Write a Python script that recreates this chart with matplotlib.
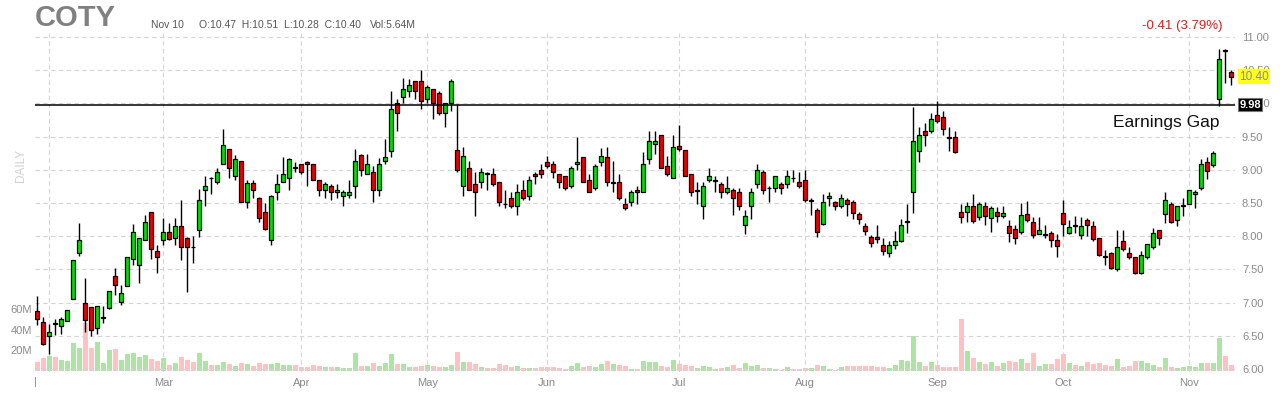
import numpy as np
import pandas as pd
import matplotlib
matplotlib.use("Agg")
import matplotlib.pyplot as plt
import matplotlib.transforms as mtransforms

plt.rcParams['font.family'] = ['Liberation Sans', 'DejaVu Sans']

# ---------------- data ----------------
ticker = "COTY"
holidays = ['2021-02-15', '2021-04-02', '2021-05-31', '2021-07-05', '2021-09-06']
dates = pd.bdate_range('2021-01-28', '2021-11-10')
dates = dates[~dates.isin(pd.to_datetime(holidays))]

opens = [6.88, 6.71, 6.50, 6.69, 6.65, 6.73, 7.06, 7.75, 7.00, 6.94,
         6.62, 6.77, 6.92, 7.40, 7.01, 7.25, 7.65, 7.57, 7.94, 8.36,
         7.77, 7.94, 8.07, 7.98, 8.16, 7.97, 7.84, 8.10, 8.69, 8.88,
         8.82, 9.09, 9.31, 8.91, 9.13, 8.51, 8.80, 8.57, 8.37, 7.95,
         8.66, 8.81, 8.87, 9.04, 9.08, 9.12, 9.08, 8.85, 8.69, 8.75,
         8.66, 8.61, 8.62, 8.76, 9.23, 8.94, 8.97, 8.69, 9.14, 9.29,
         10.00, 10.09, 10.18, 10.33, 10.34, 10.06, 10.21, 10.16, 9.85, 10.00,
         9.30, 8.75, 9.02, 8.79, 8.81, 8.95, 8.93, 8.81, 8.49, 8.58,
         8.46, 8.69, 8.61, 8.94, 9.00, 9.11, 9.09, 8.93, 8.90, 8.76,
         9.08, 9.20, 8.84, 8.72, 9.12, 9.20, 8.80, 8.81, 8.49, 8.51,
         8.69, 8.66, 9.17, 9.39, 9.52, 9.06, 8.88, 9.36, 9.30, 8.93,
         8.68, 8.46, 8.84, 8.83, 8.79, 8.67, 8.70, 8.67, 8.17, 8.45,
         8.79, 8.97, 8.72, 8.72, 8.79, 8.79, 8.88, 8.82, 8.84, 8.53,
         8.40, 8.19, 8.57, 8.52, 8.45, 8.55, 8.51, 8.34, 8.16, 7.99,
         7.99, 7.86, 7.74, 7.86, 7.93, 8.22, 8.66, 9.29, 9.59, 9.58,
         9.82, 9.80, 9.49, 9.50, 8.37, 8.37, 8.46, 8.29, 8.45, 8.28,
         8.36, 8.30, 8.15, 8.11, 8.06, 8.33, 8.21, 8.03, 8.02, 8.05,
         7.94, 8.35, 8.05, 8.17, 8.02, 8.24, 8.15, 7.97, 7.70, 7.74,
         7.50, 7.93, 7.75, 7.69, 7.44, 7.68, 7.83, 8.10, 8.33, 8.49,
         8.24, 8.46, 8.49, 8.64, 8.72, 9.11, 9.07, 10.06, 10.80, 10.47]

highs = [7.10, 6.79, 6.68, 6.75, 6.79, 6.89, 7.64, 8.20, 7.37, 6.94,
         6.95, 6.95, 7.18, 7.52, 7.27, 7.69, 8.18, 7.98, 8.32, 8.36,
         7.87, 8.28, 8.20, 8.27, 8.54, 7.99, 8.01, 8.71, 8.91, 8.89,
         9.02, 9.61, 9.32, 9.23, 9.13, 8.84, 8.84, 8.59, 8.50, 8.62,
         8.94, 9.20, 9.18, 9.12, 9.08, 9.14, 9.08, 8.85, 8.82, 8.79,
         8.78, 8.70, 8.84, 9.32, 9.24, 9.24, 9.05, 9.18, 9.46, 10.18,
         10.07, 10.39, 10.36, 10.33, 10.51, 10.27, 10.21, 10.18, 10.00, 10.36,
         9.99, 9.35, 9.14, 8.97, 9.02, 8.97, 9.02, 8.82, 8.69, 8.66,
         8.79, 8.84, 8.90, 8.96, 9.09, 9.21, 9.14, 8.94, 8.91, 9.06,
         9.50, 9.20, 8.93, 9.08, 9.33, 9.35, 9.14, 8.94, 8.57, 8.70,
         8.75, 9.27, 9.58, 9.58, 9.53, 9.21, 9.52, 9.68, 9.30, 8.93,
         8.81, 8.82, 9.02, 8.90, 8.81, 8.90, 8.72, 8.73, 8.40, 8.72,
         9.08, 9.00, 8.76, 8.91, 8.82, 9.00, 9.00, 8.97, 8.99, 8.57,
         8.43, 8.64, 8.66, 8.53, 8.64, 8.58, 8.54, 8.37, 8.20, 8.02,
         8.17, 7.98, 7.93, 8.08, 8.26, 8.49, 9.95, 9.64, 9.70, 9.85,
         10.03, 9.89, 9.65, 9.59, 8.49, 8.51, 8.64, 8.52, 8.51, 8.46,
         8.44, 8.46, 8.24, 8.17, 8.50, 8.53, 8.29, 8.29, 8.17, 8.08,
         8.03, 8.55, 8.24, 8.30, 8.29, 8.27, 8.23, 7.97, 7.79, 7.76,
         8.09, 8.10, 7.84, 7.69, 7.78, 7.89, 8.12, 8.10, 8.66, 8.52,
         8.46, 8.58, 8.69, 8.70, 9.16, 9.19, 9.29, 10.82, 10.82, 10.51]

lows = [6.66, 6.36, 6.22, 6.51, 6.52, 6.72, 7.05, 7.70, 6.55, 6.49,
        6.52, 6.69, 6.91, 7.11, 6.96, 7.25, 7.57, 7.29, 7.94, 7.66,
        7.44, 7.86, 7.94, 7.86, 7.64, 7.16, 7.60, 7.99, 8.46, 8.64,
        8.79, 9.09, 8.88, 8.85, 8.52, 8.43, 8.58, 8.21, 8.09, 7.87,
        8.54, 8.81, 8.69, 8.97, 8.93, 8.76, 8.84, 8.60, 8.58, 8.54,
        8.57, 8.46, 8.57, 8.57, 8.90, 8.94, 8.52, 8.60, 9.09, 9.20,
        9.58, 10.00, 10.10, 10.06, 9.92, 10.00, 9.76, 9.82, 9.64, 9.89,
        8.97, 8.60, 8.69, 8.31, 8.72, 8.70, 8.76, 8.45, 8.42, 8.43,
        8.32, 8.54, 8.55, 8.78, 8.88, 9.02, 8.88, 8.72, 8.70, 8.73,
        9.00, 8.81, 8.66, 8.70, 9.05, 8.76, 8.67, 8.54, 8.39, 8.46,
        8.48, 8.66, 9.09, 9.24, 9.02, 8.91, 8.87, 9.29, 8.90, 8.61,
        8.49, 8.26, 8.81, 8.66, 8.58, 8.64, 8.32, 8.39, 8.04, 8.26,
        8.73, 8.63, 8.52, 8.67, 8.63, 8.73, 8.81, 8.73, 8.52, 8.32,
        7.99, 8.17, 8.46, 8.39, 8.43, 8.31, 8.26, 8.19, 8.02, 7.83,
        7.90, 7.72, 7.69, 7.80, 7.92, 8.05, 8.35, 9.12, 9.36, 9.55,
        9.71, 9.53, 9.29, 9.26, 8.20, 8.22, 8.20, 8.25, 8.17, 8.07,
        8.21, 8.27, 7.91, 7.88, 8.03, 8.21, 7.97, 8.03, 7.97, 7.84,
        7.69, 8.00, 8.03, 8.05, 7.96, 8.00, 7.93, 7.70, 7.56, 7.51,
        7.48, 7.77, 7.66, 7.43, 7.43, 7.65, 7.81, 7.87, 8.20, 8.20,
        8.15, 8.31, 8.49, 8.43, 8.69, 8.86, 9.04, 9.96, 10.31, 10.28]

closes = [6.76, 6.37, 6.56, 6.68, 6.76, 6.89, 7.64, 7.94, 6.74, 6.58,
          6.95, 6.79, 7.18, 7.26, 7.15, 7.69, 8.06, 7.98, 8.21, 7.81,
          7.68, 8.07, 7.96, 8.16, 7.83, 7.83, 7.83, 8.54, 8.76, 8.87,
          8.97, 9.37, 9.02, 9.16, 8.52, 8.80, 8.70, 8.28, 8.11, 8.60,
          8.79, 8.94, 9.16, 9.03, 8.97, 9.08, 8.85, 8.69, 8.79, 8.67,
          8.70, 8.66, 8.66, 9.14, 9.00, 9.09, 8.70, 9.09, 9.20, 9.92,
          9.86, 10.22, 10.28, 10.19, 10.03, 10.25, 10.01, 9.85, 10.00, 10.34,
          9.00, 9.21, 8.70, 8.66, 8.96, 8.94, 8.79, 8.52, 8.48, 8.45,
          8.66, 8.57, 8.85, 8.90, 8.93, 9.06, 8.96, 8.82, 8.73, 9.02,
          9.12, 8.81, 8.67, 9.05, 9.21, 8.81, 8.81, 8.58, 8.42, 8.67,
          8.66, 9.08, 9.44, 9.44, 9.02, 8.93, 9.35, 9.32, 8.90, 8.67,
          8.69, 8.75, 8.91, 8.84, 8.66, 8.73, 8.58, 8.45, 8.31, 8.67,
          9.00, 8.70, 8.73, 8.90, 8.72, 8.91, 8.87, 8.75, 8.54, 8.54,
          8.07, 8.51, 8.61, 8.46, 8.58, 8.49, 8.35, 8.26, 8.08, 7.90,
          7.96, 7.77, 7.87, 7.93, 8.17, 8.23, 9.44, 9.52, 9.52, 9.77,
          9.74, 9.61, 9.48, 9.27, 8.29, 8.46, 8.23, 8.49, 8.31, 8.42,
          8.30, 8.35, 8.05, 7.97, 8.32, 8.24, 8.02, 8.09, 8.03, 7.94,
          7.85, 8.18, 8.14, 8.16, 8.15, 8.17, 7.96, 7.71, 7.69, 7.52,
          7.84, 7.80, 7.68, 7.45, 7.71, 7.89, 8.05, 7.98, 8.55, 8.21,
          8.46, 8.47, 8.69, 8.67, 9.08, 8.98, 9.26, 10.67, 10.79, 10.40]

volumes_m = [8.8, 12.0, 14.6, 13.0, 10.4, 9.8, 27.3, 22.7, 47.0, 22.7,
             28.3, 7.8, 20.5, 21.5, 10.7, 16.0, 17.0, 13.0, 15.6, 11.7,
             9.8, 12.7, 5.9, 7.8, 13.7, 10.7, 8.8, 17.6, 9.8, 5.9,
             5.9, 8.8, 6.8, 4.9, 7.8, 6.8, 4.9, 7.8, 6.8, 6.8,
             7.8, 5.9, 5.9, 5.9, 3.9, 3.9, 5.9, 4.9, 3.9, 3.9,
             3.9, 2.9, 2.9, 17.6, 4.9, 4.9, 7.8, 4.9, 7.8, 16.6,
             6.8, 6.8, 3.9, 3.9, 4.9, 5.9, 4.9, 3.9, 3.9, 5.9,
             18.5, 8.8, 8.8, 6.8, 3.9, 2.9, 2.9, 6.8, 5.9, 3.9,
             4.9, 2.9, 2.9, 2.9, 3.9, 3.9, 3.9, 2.9, 2.0, 4.9,
             7.8, 3.9, 4.9, 3.9, 6.8, 9.8, 6.8, 5.9, 4.9, 2.0,
             2.0, 9.8, 8.8, 8.8, 4.9, 3.9, 10.7, 6.8, 5.9, 4.9,
             2.9, 4.9, 3.9, 2.0, 2.9, 3.9, 5.9, 2.9, 7.8, 4.9,
             5.9, 2.9, 2.9, 2.0, 1.0, 3.9, 2.0, 2.0, 2.9, 2.9,
             5.9, 4.9, 2.0, 1.0, 3.9, 4.9, 4.9, 4.9, 4.9, 4.9,
             3.9, 3.9, 2.9, 5.9, 10.7, 9.8, 34.0, 8.8, 4.9, 8.8,
             5.9, 3.9, 3.9, 3.9, 50.7, 19.5, 12.7, 8.8, 6.8, 8.8,
             4.9, 7.8, 9.8, 8.8, 11.7, 7.8, 17.6, 4.9, 6.8, 6.8,
             11.7, 16.6, 7.8, 5.9, 4.9, 8.8, 6.8, 7.8, 5.9, 4.9,
             11.4, 3.9, 4.9, 9.8, 9.8, 7.8, 5.9, 3.9, 12.4, 3.9,
             2.9, 3.9, 4.9, 3.9, 7.8, 7.8, 7.8, 31.9, 14.3, 5.64]

price_ticks = [6.0, 6.5, 7.0, 7.5, 8.0, 8.5, 9.0, 9.5, 10.0, 10.5, 11.0]
vol_ticks = [20, 40, 60]
vol_tick_labels = ["20M", "40M", "60M"]
gap_level = 9.98
gap_label = "Earnings Gap"
change_text = "-0.41 (3.79%)"
last_date_text = "Nov 10"
ohlc_text = "O:10.47  H:10.51  L:10.28  C:10.40"
vol_text = "Vol:5.64M"

# ---------------- figure ----------------
W, H = 1280, 400
fig = plt.figure(figsize=(12.8, 4.0), dpi=100)
fig.patch.set_facecolor("white")


def fx(px):
    return px / W


def fy(py):
    return 1 - py / H


ax_left, ax_right, ax_top, ax_bottom = 35, 1235, 30, 372
ax = fig.add_axes([fx(ax_left), fy(ax_bottom), (ax_right - ax_left) / W, (ax_bottom - ax_top) / H])
axv = ax.twinx()
ax.set_zorder(2)
ax.patch.set_visible(False)

n = len(opens)
x = np.arange(n)
o = np.array(opens)
h = np.array(highs)
l = np.array(lows)
c = np.array(closes)
up = c >= o

GREEN = "#00e000"
RED = "#ee0000"
VGREEN = "#ade3a3"
VRED = "#ffc1c1"

# volume bars
axv.bar(x, volumes_m, width=0.86, color=np.where(up, VGREEN, VRED), linewidth=0, zorder=1)
axv.set_ylim(-1.2, 332.5)
axv.set_yticks(vol_ticks)
axv.set_yticklabels(vol_tick_labels)
axv.yaxis.tick_left()
axv.tick_params(axis="y", length=0, labelsize=8, labelcolor="#8a8a8a", pad=2)

# candles
ax.vlines(x, l, h, color="black", linewidth=1.0, zorder=3)
body_h = np.maximum(np.abs(c - o), 0.006)
ax.bar(x, body_h, bottom=np.minimum(o, c), width=0.72,
       color=np.where(up, GREEN, RED), edgecolor="black", linewidth=0.9, zorder=4)

ax.set_xlim(-0.383, n - 0.383)
ax.set_ylim(11 - (ax_bottom - 37) / 66.4, 11 + (37 - ax_top) / 66.4)

# grid / ticks
month_starts = [i for i in range(1, n) if dates[i].month != dates[i - 1].month]
month_names = [dates[i].strftime("%b") for i in month_starts]
month_names = ["" if m == "Feb" else m for m in month_names]
ax.set_xticks(month_starts)
ax.set_xticklabels(month_names)
ax.set_yticks(price_ticks)
ax.set_yticklabels(["%.2f" % v for v in price_ticks])
ax.yaxis.tick_right()
ax.tick_params(axis="y", length=0, labelsize=8, labelcolor="#8a8a8a", pad=5)
ax.tick_params(axis="x", length=0, labelsize=8, labelcolor="#8a8a8a", pad=4)
ax.grid(True, color="#d4d4d4", linestyle=(0, (4, 3)), linewidth=0.8)
ax.set_axisbelow(True)
for a in (ax, axv):
    for s in a.spines.values():
        s.set_visible(False)
axv.tick_params(axis="x", length=0)

# gap line
ax.axhline(gap_level, color="black", linewidth=1.1, zorder=5)
trans = mtransforms.blended_transform_factory(ax.transAxes, ax.transData)
ax.text(1.0035, gap_level, "%.2f" % gap_level, transform=trans, ha="left", va="center",
        fontsize=8, fontweight="bold", color="white", zorder=10, clip_on=False,
        bbox=dict(boxstyle="square,pad=0.12", facecolor="black", edgecolor="#777777", linewidth=0.8))
ax.text(1.0035, closes[-1], "%.2f" % closes[-1], transform=trans, ha="left", va="center",
        fontsize=8.5, color="#8a8a8a", zorder=10, clip_on=False,
        bbox=dict(boxstyle="square,pad=0.12", facecolor="#ffff1a", edgecolor="none"))
ax.text((1113 - ax_left) / (ax_right - ax_left), 9.71, gap_label, transform=trans,
        ha="left", va="center", fontsize=12.5, color="#111111", zorder=10)

# header texts
fig.text(fx(35), fy(18), ticker, fontsize=21, fontweight="bold", color="#808080", ha="left", va="center")
fig.text(fx(151), fy(25), last_date_text, fontsize=7.5, color="#555555", ha="left", va="center")
fig.text(fx(199), fy(25), ohlc_text, fontsize=7.5, color="#555555", ha="left", va="center")
fig.text(fx(370), fy(25), vol_text, fontsize=7.5, color="#555555", ha="left", va="center")
fig.text(fx(1222), fy(26), change_text, fontsize=9.5, color="#d42020", ha="right", va="center")
fig.text(fx(21), fy(165), "DAILY", fontsize=8.5, color="#d0d0d0", rotation=90, ha="center", va="center")
fig.text(fx(35), fy(382), "|", fontsize=8, color="#8a8a8a", ha="center", va="center")

fig.savefig("out.png", dpi=100, facecolor="white")
